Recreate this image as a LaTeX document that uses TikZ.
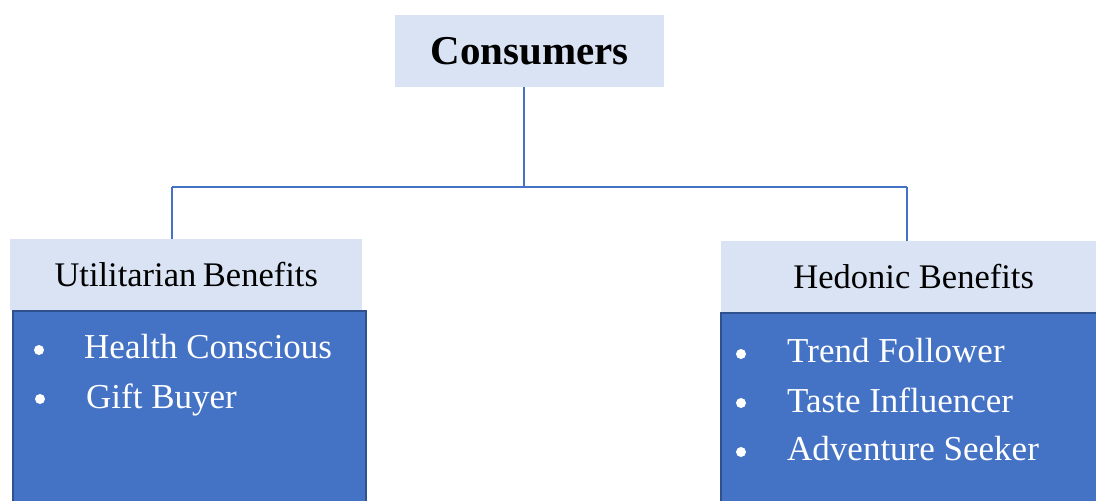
\documentclass[tikz,border=0pt]{standalone}
\usepackage{fontspec}
\setmainfont{Liberation Serif}
\definecolor{hdrfill}{HTML}{DAE3F3}
\definecolor{boxfill}{HTML}{4472C4}
\definecolor{boxline}{HTML}{2F528F}
\definecolor{linkc}{HTML}{4472C4}
\begin{document}
\begin{tikzpicture}[x=1pt,y=-1pt,
  hdr/.style={rectangle, fill=hdrfill, draw=none, inner sep=0pt, anchor=north west, text=black},
  listbox/.style={rectangle, fill=boxfill, draw=boxline, line width=1.5pt, inner sep=0pt, anchor=north west},
  item/.style={anchor=base west, inner sep=0pt, text=white, font=\fontsize{35}{40}\selectfont},
  dot/.style={circle, fill=white, draw=none, minimum size=10pt, inner sep=0pt},
  link/.style={draw=linkc, line width=1.2pt}]
\useasboundingbox (0,0) rectangle (1096,501);
\fill[white] (0,0) rectangle (1096,501);
% top node
\node[hdr, minimum width=269pt, minimum height=72pt, font=\fontsize{41}{46}\selectfont\bfseries] (cons) at (395,15) {Consumers};
% headers
\node[hdr, minimum width=352pt, minimum height=71pt, font=\fontsize{34.5}{40}\selectfont] (util) at (10,239) {Utilitarian\kern-2pt\ Benefits};
\node[hdr, minimum width=385pt, minimum height=71pt, font=\fontsize{34.5}{40}\selectfont] (hed) at (721,241) {Hedonic Benefits};
% list boxes
\node[listbox, minimum width=353pt, minimum height=200pt] (ubox) at (12,310) {};
\node[listbox, minimum width=390pt, minimum height=200pt] (hbox) at (720,312) {};
% items left
\node[dot] (ud1) at (39,350) {};
\node[dot] (ud2) at (40,399) {};
\node[item] (u1) at (84,358) {Health Conscious};
\node[item] (u2) at (86,408) {Gift Buyer};
% items right
\node[dot] (hd1) at (741,354) {};
\node[dot] (hd2) at (741,403) {};
\node[dot] (hd3) at (741,452) {};
\node[item] (h1) at (787,362) {Trend Follower};
\node[item] (h2) at (787,412) {Taste Influencer};
\node[item] (h3) at (787,460) {Adventure Seeker};
% connectors
\coordinate (jl) at (172,187);
\coordinate (jr) at (907,187);
\coordinate (jm) at (524,187);
\draw[link] (jm |- cons.south) -- (jm);
\draw[link] (jl) -- (jr);
\draw[link] (jl) -- (jl |- util.north);
\draw[link] (jr) -- (jr |- hed.north);
\end{tikzpicture}
\end{document}
